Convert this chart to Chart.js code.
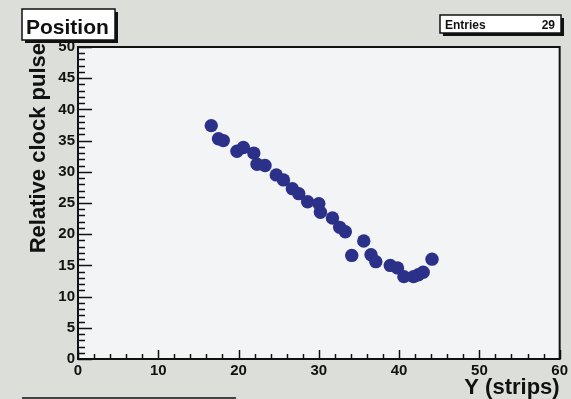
<!DOCTYPE html>
<html>
<head>
<meta charset="utf-8">
<script src="https://cdn.jsdelivr.net/npm/chart.js@4.4.0/dist/chart.umd.min.js"></script>
<style>
  html, body { margin: 0; padding: 0; background: #dcdfd9; }
  canvas { display: block; }
</style>
</head>
<body>
<canvas id="chart" width="571" height="399"></canvas>
<script>
// Position scan: strip (Y) vs relative clock pulse
const stripY = [16.6, 17.5, 18.1, 19.8, 20.6, 21.9, 22.3, 23.3, 24.7, 25.6,
                26.7, 27.5, 28.6, 30.0, 30.2, 31.7, 32.6, 33.3, 34.1, 35.6,
                36.5, 37.1, 38.9, 39.8, 40.6, 41.8, 42.4, 43.0, 44.1];
const clockPulse = [37.4, 35.3, 35.0, 33.3, 33.9, 33.0, 31.2, 31.0, 29.5, 28.7,
                    27.3, 26.5, 25.2, 24.9, 23.5, 22.6, 21.1, 20.4, 16.6, 18.9,
                    16.7, 15.6, 15.0, 14.6, 13.2, 13.2, 13.5, 13.9, 16.0];
const xTicks = [0, 10, 20, 30, 40, 50, 60];
const yTicks = [0, 5, 10, 15, 20, 25, 30, 35, 40, 45, 50];
const entries = stripY.length;

const FONT = '"Liberation Sans", Arial, Helvetica, sans-serif';

// ROOT-like frame, inner ticks, titles and the stats boxes
const rootStyle = {
    id: 'rootStyle',
    beforeDraw(chart) {
        const ctx = chart.ctx;
        const a = chart.chartArea;
        ctx.save();
        ctx.fillStyle = '#dcdfd9';
        ctx.fillRect(0, 0, chart.width, chart.height);
        ctx.fillStyle = '#f3f4f6';
        ctx.fillRect(a.left, a.top, a.right - a.left, a.bottom - a.top);
        ctx.restore();
    },
    afterDraw(chart) {
        const ctx = chart.ctx;
        const a = chart.chartArea;
        const xs = chart.scales.x;
        const ys = chart.scales.y;
        ctx.save();
        ctx.strokeStyle = '#111';

        // ticks
        ctx.lineWidth = 1.5;
        ctx.beginPath();
        for (let v = 0; v <= 60; v += 2) {
            const px = Math.round(xs.getPixelForValue(v)) + 0.5;
            const len = v % 10 === 0 ? 9 : 5;
            ctx.moveTo(px, a.bottom);
            ctx.lineTo(px, a.bottom - len);
        }
        for (let v = 0; v <= 50; v += 1) {
            const py = Math.round(ys.getPixelForValue(v)) + 0.5;
            const len = v % 5 === 0 ? 14 : 7;
            ctx.moveTo(a.left, py);
            ctx.lineTo(a.left + len, py);
        }
        ctx.stroke();

        // frame
        ctx.lineWidth = 2;
        ctx.strokeRect(a.left, a.top, a.right - a.left, a.bottom - a.top);

        // axis titles
        ctx.fillStyle = '#111';
        ctx.font = 'bold 22px ' + FONT;
        ctx.textAlign = 'right';
        ctx.textBaseline = 'alphabetic';
        ctx.fillText('Y (strips)', a.right, 394);

        ctx.save();
        ctx.translate(45, a.top - 4);
        ctx.rotate(-Math.PI / 2);
        ctx.textAlign = 'right';
        ctx.fillText('Relative clock pulse', 0, 0);
        ctx.restore();

        // title box
        drawBox(ctx, 22, 9, 93, 31, 3);
        ctx.fillStyle = '#111';
        ctx.font = 'bold 21px ' + FONT;
        ctx.textAlign = 'left';
        ctx.fillText('Position', 26, 34);

        // stats box
        drawBox(ctx, 440, 15, 121, 18, 3);
        ctx.fillStyle = '#111';
        ctx.font = 'bold 12px ' + FONT;
        ctx.textAlign = 'left';
        ctx.fillText('Entries', 445, 29);
        ctx.textAlign = 'right';
        ctx.fillText(String(entries), 555, 29);

        // top edge of a box below the frame
        ctx.lineWidth = 1.5;
        ctx.beginPath();
        ctx.moveTo(22, 398);
        ctx.lineTo(236, 398);
        ctx.stroke();
        ctx.restore();
    }
};

function drawBox(ctx, x, y, w, h, sh) {
    ctx.fillStyle = '#111';
    ctx.fillRect(x + sh, y + sh, w, h);
    ctx.fillStyle = '#ffffff';
    ctx.fillRect(x, y, w, h);
    ctx.strokeStyle = '#111';
    ctx.lineWidth = 1.5;
    ctx.strokeRect(x, y, w, h);
}

const points = stripY.map((x, i) => ({ x: x, y: clockPulse[i] }));

new Chart(document.getElementById('chart'), {
    type: 'scatter',
    data: {
        datasets: [{
            label: 'Position',
            data: points,
            backgroundColor: '#2b3088',
            borderWidth: 0,
            pointRadius: 6.7,
            pointHoverRadius: 6.7
        }]
    },
    options: {
        responsive: false,
        animation: false,
        devicePixelRatio: 1,
        layout: { padding: { left: 18, right: 8, top: 47, bottom: 0 } },
        plugins: {
            legend: { display: false },
            tooltip: { enabled: false }
        },
        scales: {
            x: {
                type: 'linear',
                min: 0,
                max: 60,
                afterFit: s => { s.height = 40; },
                afterBuildTicks: s => { s.ticks = xTicks.map(v => ({ value: v })); },
                grid: { display: false, drawTicks: false },
                border: { display: false },
                ticks: {
                    color: '#111',
                    padding: 3,
                    maxRotation: 0,
                    font: { family: FONT, size: 15, weight: 'bold' }
                }
            },
            y: {
                type: 'linear',
                min: 0,
                max: 50,
                afterFit: s => { s.width = 60; },
                afterBuildTicks: s => { s.ticks = yTicks.map(v => ({ value: v })); },
                grid: { display: false, drawTicks: false },
                border: { display: false },
                ticks: {
                    color: '#111',
                    padding: 3,
                    font: { family: FONT, size: 15, weight: 'bold' }
                }
            }
        }
    },
    plugins: [rootStyle]
});
</script>
</body>
</html>
